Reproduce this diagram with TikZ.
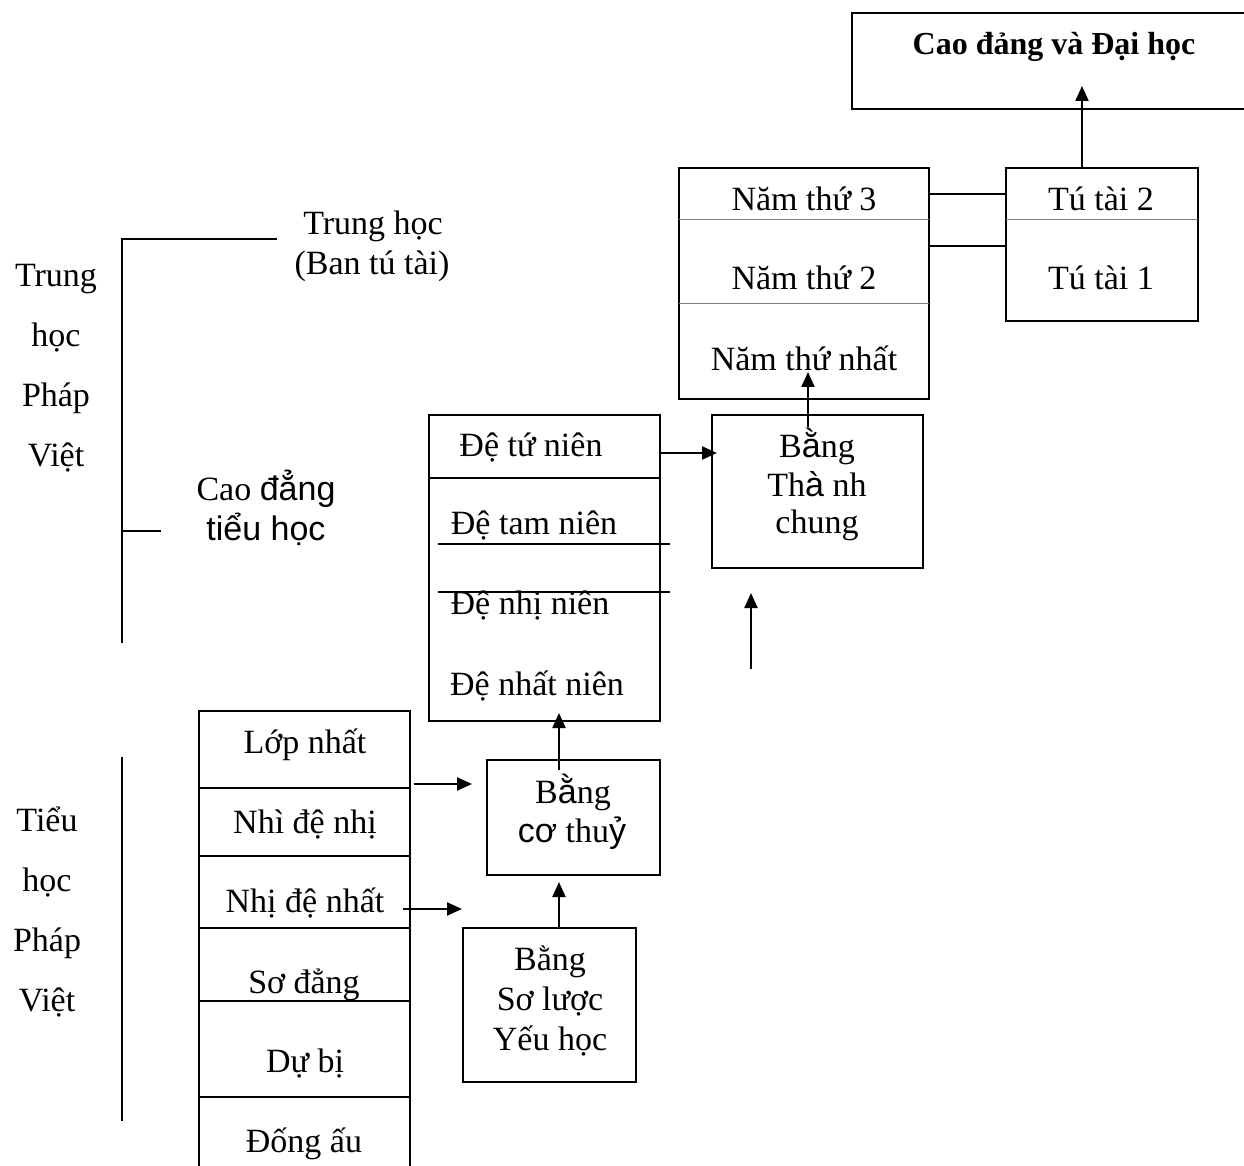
\documentclass[tikz,border=0pt]{standalone}
\usepackage{fontspec}
\setmainfont{Liberation Serif}
\newfontfamily\arialv{Liberation Sans}
\usetikzlibrary{arrows.meta,fit}

\begin{document}
\begin{tikzpicture}[x=0.5pt,y=-0.5pt,
    box/.style={draw,line width=1pt,inner sep=0pt},
    txt/.style={anchor=base,inner sep=0pt,font=\fontsize{17}{20}\selectfont},
    arr/.style={-{Triangle[length=7.5pt,width=6.5pt]},line width=1.1pt},
    rule/.style={line width=0.9pt},
    thin/.style={line width=0.5pt,draw=gray}]
  \useasboundingbox (0,0) rectangle (1244,1166);
  \clip (0,0) rectangle (1244,1166);

  % boxes
  \node[box,fit={(852,13) (1260,109)}] (dh) {};
  \node[box,fit={(679,168) (929,399)}] (nam) {};
  \node[box,fit={(1006,168) (1198,321)}] (tt) {};
  \node[box,fit={(712,415) (923,568)}] (tc) {};
  \node[box,fit={(429,415) (660,721)}] (de) {};
  \node[box,fit={(487,760) (660,875)}] (ct) {};
  \node[box,fit={(463,928) (636,1082)}] (sl) {};
  \node[box,fit={(199,711) (410,1190)}] (lop) {};

  % dividers
  \draw[thin] (679,220) -- (929,220);
  \draw[thin] (679,304) -- (929,304);
  \draw[thin] (1006,220) -- (1198,220);
  \draw[line width=1pt] (429,478) -- (660,478);
  \draw[rule] (438,544) -- (670,544);
  \draw[rule] (438,592) -- (670,592);
  \foreach \y in {788,856,928,1001,1097}
    \draw[rule] (199,\y) -- (410,\y);

  % texts
  \node[txt,font=\bfseries\fontsize{16}{19}\selectfont] (dht) at (1054,55) {Cao đảng và Đại học};
  \node[txt] (n3) at (804,211) {Năm thứ 3};
  \node[txt] (n2) at (804,290) {Năm thứ 2};
  \node[txt] (n1) at (804,371) {Năm thứ nhất};
  \node[txt] (t2) at (1101,211) {Tú tài 2};
  \node[txt] (t1) at (1101,290) {Tú tài 1};
  \node[txt] (tc1) at (817,458) {B{\arialv ằ}ng};
  \node[txt] (tc2) at (817,497) {Th{\arialv à} nh};
  \node[txt] (tc3) at (817,533) {chung};
  \node[txt] (d4) at (531,457) {Đệ tứ niên};
  \node[txt] (d3) at (534,535) {Đệ tam niên};
  \node[txt] (d2) at (530,615) {Đệ nhị niên};
  \node[txt] (d1) at (537,695) {Đệ nhất niên};
  \node[txt] (ct1) at (573,803) {B{\arialv ằ}ng};
  \node[txt] (ct2) at (572,842) {{\arialv cơ} thu{\arialv ỷ}};
  \node[txt] (sl1) at (550,970) {Bằng};
  \node[txt] (sl2) at (550,1010) {Sơ lược};
  \node[txt] (sl3) at (550,1050) {Yếu học};
  \node[txt] (l6) at (305,753) {Lớp nhất};
  \node[txt] (l5) at (305,833) {Nhì đệ nhị};
  \node[txt] (l4) at (305,912) {Nhị đệ nhất};
  \node[txt] (l3) at (304,993) {Sơ đẳng};
  \node[txt] (l2) at (305,1072) {Dự bị};
  \node[txt] (l1) at (304,1152) {Đống ấu};
  \node[txt] (th1) at (373,235) {Trung học};
  \node[txt] (th2) at (372,275) {(Ban tú tài)};
  \node[txt] (cd1) at (266,501) {Cao {\arialv đẳng}};
  \node[txt] (cd2) at (266,541) {\arialv tiểu học};
  \node[txt] (tv1) at (56,287) {Trung};
  \node[txt] (tv2) at (56,347) {học};
  \node[txt] (tv3) at (56,407) {Pháp};
  \node[txt] (tv4) at (56,467) {Việt};
  \node[txt] (pv1) at (47,831) {Tiểu};
  \node[txt] (pv2) at (47,891) {học};
  \node[txt] (pv3) at (47,951) {Pháp};
  \node[txt] (pv4) at (47,1011) {Việt};

  % brackets
  \draw[rule] (277,239) -- (122,239) -- (122,643);
  \draw[rule] (122,531) -- (161,531);
  \draw[rule] (122,757) -- (122,1121);

  % links
  \coordinate (k1) at (0,194);
  \coordinate (k2) at (0,246);
  \draw[rule] (nam.east |- k1) -- (tt.west |- k1);
  \draw[rule] (nam.east |- k2) -- (tt.west |- k2);

  % arrows
  \coordinate (a1) at (1082,86);
  \coordinate (a2s) at (808,427);
  \coordinate (a2) at (808,372);
  \coordinate (a3) at (717,453);
  \coordinate (a4s) at (751,669);
  \coordinate (a4) at (751,593);
  \coordinate (a5s) at (559,770);
  \coordinate (a5) at (559,713);
  \coordinate (a6) at (559,882);
  \coordinate (a7s) at (414,784);
  \coordinate (a7) at (472,784);
  \coordinate (a8s) at (403,909);
  \coordinate (a8) at (462,909);
  \draw[arr] (tt.north -| a1) -- (a1);
  \draw[arr] (a2s) -- (a2);
  \draw[arr] (de.east |- a3) -- (a3);
  \draw[arr] (a4s) -- (a4);
  \draw[arr] (a5s) -- (a5);
  \draw[arr] (sl.north -| a6) -- (a6);
  \draw[arr] (a7s) -- (a7);
  \draw[arr] (a8s) -- (a8);
\end{tikzpicture}
\end{document}
